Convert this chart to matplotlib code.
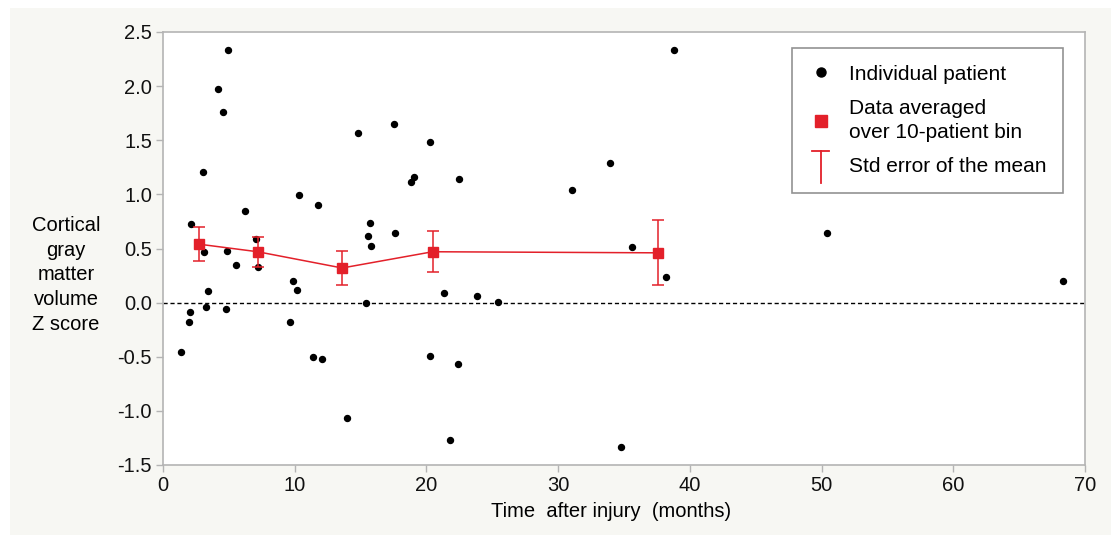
import numpy as np
import matplotlib
matplotlib.use("Agg")
import matplotlib.pyplot as plt
from matplotlib.lines import Line2D
from matplotlib.patches import Rectangle
from matplotlib.legend_handler import HandlerBase

plt.rcParams['font.family'] = ['Liberation Sans', 'DejaVu Sans']

# individual patients: time after injury (months), cortical GM volume z score
months = [1.34, 2.0, 2.05, 2.13, 3.0, 3.11, 3.23, 3.42, 4.2, 4.58,
          4.81, 4.88, 4.9, 5.52, 6.25, 7.09, 7.19, 9.62, 9.87, 10.15,
          10.33, 11.4, 11.8, 12.1, 13.95, 14.78, 15.39, 15.54, 15.69, 15.77,
          17.56, 17.6, 18.83, 19.06, 20.3, 20.3, 21.3, 21.8, 22.4, 22.5,
          23.87, 25.4, 31.05, 33.9, 34.8, 35.6, 38.2, 38.8, 50.4, 68.3]
zscore = [-0.46, -0.18, -0.09, 0.73, 1.21, 0.47, -0.04, 0.11, 1.97, 1.76,
          -0.06, 0.48, 2.33, 0.35, 0.85, 0.59, 0.33, -0.18, 0.20, 0.12,
          0.99, -0.50, 0.90, -0.52, -1.07, 1.57, 0.0, 0.62, 0.74, 0.52,
          1.65, 0.64, 1.11, 1.16, 1.48, -0.49, 0.085, -1.27, -0.57, 1.14,
          0.06, 0.01, 1.04, 1.29, -1.33, 0.51, 0.235, 2.33, 0.64, 0.20]

# 10-patient bin averages and standard error
bin_months = [2.73, 7.19, 13.6, 20.47, 37.6]
bin_mean = [0.54, 0.47, 0.32, 0.47, 0.46]
bin_sem = [0.16, 0.14, 0.16, 0.19, 0.30]

red = '#e3202a'
grey = '#b4b4b4'


class HandlerTee(HandlerBase):
    # the "T" symbol used for the error bar entry
    def create_artists(self, legend, orig_handle, xdescent, ydescent,
                       width, height, fontsize, trans):
        cx = width / 2 - xdescent
        top = height * 1.5
        bot = -height * 0.7
        half = fontsize * 0.42
        v = Line2D([cx, cx], [bot, top], color=red, lw=1.3, transform=trans)
        h = Line2D([cx - half, cx + half], [top, top], color=red, lw=1.3, transform=trans)
        return [v, h]


fig = plt.figure(figsize=[11.11, 5.35], dpi=100)
fig.patch.set_facecolor('white')
fig.patches.append(Rectangle((10 / 1111, 0), 1, 1 - 8 / 535, transform=fig.transFigure,
                             facecolor='#f7f7f3', edgecolor='none', zorder=-10))

ax = fig.add_axes([163 / 1111, 70 / 535, 922 / 1111, 433 / 535])
ax.set_facecolor('white')

ax.axhline(0, color='black', lw=1, ls=(0, (3, 2)), zorder=1)
ax.plot(months, zscore, 'o', color='black', markersize=4.3, zorder=3)
ax.errorbar(bin_months, bin_mean, yerr=bin_sem, color=red, lw=1.1, elinewidth=1.1,
            capsize=4, capthick=1.1, marker='s', markersize=7, zorder=4)

ax.set_xlim(0, 70)
ax.set_ylim(-1.5, 2.5)
ax.set_xticks(np.arange(0, 71, 10))
ax.set_yticks(np.arange(-1.5, 2.51, 0.5))
ax.set_yticklabels(['%.1f' % v for v in np.arange(-1.5, 2.51, 0.5)])
for s in ax.spines.values():
    s.set_color(grey)
    s.set_linewidth(1.2)
ax.tick_params(axis='both', color=grey, length=5, width=1, labelsize=14.5, pad=3,
               labelcolor='#111111')

ax.set_xlabel('Time  after injury  (months)', fontsize=14.5)
ax.xaxis.set_label_coords(0.486, -0.085)
fig.text(66 / 1111, 1 - 275 / 535, 'Cortical\ngray\nmatter\nvolume\nZ score',
         ha='center', va='center', fontsize=14.5, linespacing=1.38)

handles = [Line2D([], [], ls='none', marker='o', color='black', markersize=6.5),
           Line2D([], [], ls='none', marker='s', color=red, markersize=8),
           'tee']
labels = ['Individual patient', 'Data averaged\nover 10-patient bin', 'Std error of the mean']
leg = ax.legend(handles, labels, handler_map={str: HandlerTee()},
                loc='upper right', bbox_to_anchor=(0.976, 0.963), borderaxespad=0,
                fontsize=15, frameon=True, fancybox=False, edgecolor='#777777',
                handlelength=1.1, handletextpad=0.8, borderpad=0.8, labelspacing=0.75)
leg.get_frame().set_linewidth(1.2)
leg.get_texts()[1].set_linespacing(1.3)

plt.savefig('out.png', dpi=100, facecolor=fig.get_facecolor())
